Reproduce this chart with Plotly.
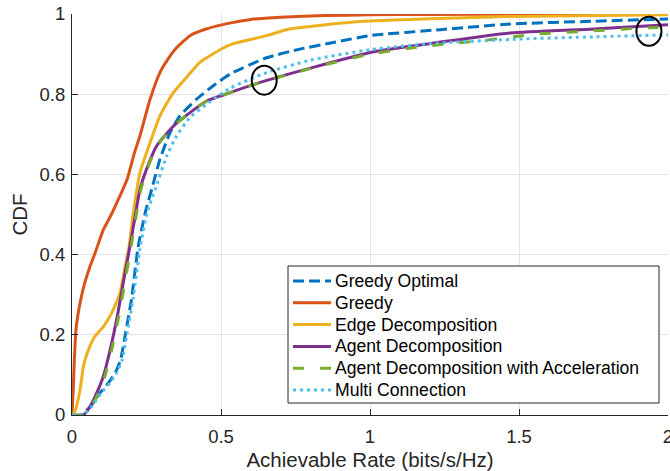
import plotly.graph_objects as go

# ---------------- data ----------------
greedy_opt_x = [0, 0.03, 0.06, 0.094, 0.122, 0.145, 0.163, 0.180, 0.200, 0.221, 0.246, 0.272,
                0.295, 0.329, 0.362, 0.418, 0.474, 0.53, 0.653, 0.765, 0.877, 1.0, 1.235, 1.47, 1.75, 2.0]
greedy_opt_y = [0, 0, 0.02, 0.055, 0.08, 0.105, 0.1375, 0.205, 0.29, 0.415, 0.505, 0.575,
                0.6375, 0.704, 0.746, 0.7875, 0.821, 0.85, 0.891, 0.9125, 0.929, 0.946, 0.961, 0.975, 0.982, 0.9875]

greedy_x = [0, 0.004, 0.008, 0.013, 0.020, 0.030, 0.043, 0.060, 0.078, 0.104, 0.132, 0.160, 0.186,
            0.210, 0.228, 0.262, 0.295, 0.322, 0.350, 0.396, 0.45, 0.52, 0.60, 0.70, 0.85, 1.0, 1.2, 1.5, 2.0]
greedy_y = [0, 0.06, 0.14, 0.21, 0.25, 0.29, 0.33, 0.37, 0.405, 0.46, 0.50, 0.545, 0.59,
            0.655, 0.696, 0.7875, 0.854, 0.8875, 0.915, 0.946, 0.9625, 0.976, 0.9865, 0.992, 0.996, 0.998, 0.999, 0.9995, 1.0]

edge_x = [0, 0.010, 0.027, 0.038, 0.055, 0.077, 0.105, 0.133, 0.161, 0.178, 0.190, 0.205, 0.228,
          0.262, 0.295, 0.340, 0.396, 0.430, 0.50, 0.541, 0.653, 0.73, 0.85, 0.966, 1.2, 1.487, 2.0]
edge_y = [0, 0.01, 0.0625, 0.12, 0.1625, 0.196, 0.22, 0.254, 0.304, 0.37, 0.4125, 0.50, 0.604,
          0.679, 0.746, 0.804, 0.852, 0.880, 0.912, 0.926, 0.946, 0.9625, 0.973, 0.981, 0.988, 0.994, 0.998]

agent_x = [0, 0.038, 0.06, 0.083, 0.105, 0.128, 0.152, 0.172, 0.193, 0.213, 0.228, 0.25, 0.284,
           0.34, 0.396, 0.452, 0.53, 0.645, 0.80, 1.0, 1.2, 1.47, 1.75, 2.0]
agent_y = [0, 0, 0.02, 0.055, 0.096, 0.1625, 0.246, 0.33, 0.415, 0.5, 0.5625, 0.6125, 0.671,
           0.72, 0.754, 0.783, 0.804, 0.8325, 0.865, 0.904, 0.926, 0.9525, 0.9625, 0.9735]

accel_x = [0, 0.04, 0.065, 0.088, 0.11, 0.133, 0.157, 0.177, 0.197, 0.216, 0.231, 0.252, 0.285,
           0.34, 0.396, 0.452, 0.53, 0.645, 0.80, 1.0, 1.2, 1.38, 1.56, 1.75, 1.94, 2.0]
accel_y = [0, 0, 0.02, 0.055, 0.096, 0.1625, 0.246, 0.33, 0.415, 0.5, 0.5625, 0.6125, 0.671,
           0.72, 0.754, 0.783, 0.804, 0.8325, 0.864, 0.9, 0.921, 0.934, 0.95, 0.958, 0.966, 0.967]

multi_x = [0, 0.025, 0.045, 0.065, 0.098, 0.127, 0.150, 0.168, 0.185, 0.205, 0.228, 0.252, 0.279,
           0.318, 0.351, 0.396, 0.452, 0.53, 0.653, 0.80, 1.0, 1.2, 1.5, 1.75, 2.0]
multi_y = [0, 0, 0.005, 0.02, 0.055, 0.08, 0.105, 0.1375, 0.205, 0.29, 0.415, 0.505, 0.5625,
           0.646, 0.696, 0.742, 0.775, 0.815, 0.854, 0.885, 0.911, 0.926, 0.9375, 0.943, 0.948]

series_names = ["Greedy Optimal", "Greedy", "Edge Decomposition", "Agent Decomposition",
                "Agent Decomposition with Acceleration", "Multi Connection"]

# highlighted points (circles) in data coordinates
highlight_x = [0.645, 1.936]
highlight_y = [0.835, 0.957]

x_ticks = [0, 0.5, 1, 1.5, 2]
x_tick_labels = ["0", "0.5", "1", "1.5", "2"]
y_ticks = [0, 0.2, 0.4, 0.6, 0.8, 1]
y_tick_labels = ["0", "0.2", "0.4", "0.6", "0.8", "1"]

# ---------------- styling ----------------
colors = ["#0072BD", "#D95319", "#EDB120", "#7E2F8E", "#77AC30", "#4DBEEE"]
dashes = ["11px,5px", "solid", "solid", "solid", "11px,16px", "3px,4px"]
xs = [greedy_opt_x, greedy_x, edge_x, agent_x, accel_x, multi_x]
ys = [greedy_opt_y, greedy_y, edge_y, agent_y, accel_y, multi_y]

FONT = "Liberation Sans, Arial, Helvetica, sans-serif"
TXT = "#262626"

W, H = 670, 471
ml, mr, mt, mb = 72, 2, 14, 56
pw, ph = W - ml - mr, H - mt - mb


def px_to_paper(px, py):
    return (px - ml) / pw, (H - mb - py) / ph


fig = go.Figure()
for name, x, y, c, d in zip(series_names, xs, ys, colors, dashes):
    fig.add_trace(go.Scatter(x=x, y=y, mode="lines", name=name, showlegend=False,
                             line=dict(color=c, width=3, dash=d, shape="spline", smoothing=0.5)))

# circles (pixel radii converted through the axis scale)
rx = 12.5 * 2.0 / pw
ry = 14.5 * 1.0 / ph
for cx, cy in zip(highlight_x, highlight_y):
    fig.add_shape(type="circle", xref="x", yref="y",
                  x0=cx - rx, x1=cx + rx, y0=cy - ry, y1=cy + ry,
                  line=dict(color="black", width=2))

# legend box (MATLAB-style, tight row spacing)
box_l, box_r, box_t, box_b = 288, 659, 266, 403
row0, row_step = 281, 21.8
x0p, y0p = px_to_paper(box_l, box_b)
x1p, y1p = px_to_paper(box_r, box_t)
fig.add_shape(type="rect", xref="paper", yref="paper", x0=x0p, x1=x1p, y0=y0p, y1=y1p,
              line=dict(color=TXT, width=1), fillcolor="white", layer="above")
for i, (name, c, d) in enumerate(zip(series_names, colors, dashes)):
    ry_px = row0 + i * row_step
    lx0, ly = px_to_paper(293, ry_px)
    lx1, _ = px_to_paper(331, ry_px)
    fig.add_shape(type="line", xref="paper", yref="paper", x0=lx0, x1=lx1, y0=ly, y1=ly,
                  line=dict(color=c, width=3, dash=d), layer="above")
    tx, _ = px_to_paper(334, ry_px)
    fig.add_annotation(xref="paper", yref="paper", x=tx, y=ly, text=name, showarrow=False,
                       xanchor="left", yanchor="middle", xshift=-1,
                       font=dict(family=FONT, size=17.6, color="#000000"))

axis_common = dict(showline=True, linecolor=TXT, linewidth=1, ticks="inside", ticklen=6,
                   tickcolor=TXT, tickwidth=1, showgrid=True, gridcolor="#e3e3e3",
                   gridwidth=1, zeroline=False, mirror=False, ticklabeloverflow="allow",
                   tickfont=dict(family=FONT, size=18.5, color=TXT))

fig.update_xaxes(range=[0, 2], tickvals=x_ticks, ticktext=x_tick_labels, ticklabelstandoff=5,
                 title=dict(text="Achievable Rate (bits/s/Hz)",
                            font=dict(family=FONT, size=20.5, color=TXT), standoff=8),
                 **axis_common)
fig.update_yaxes(range=[0, 1], tickvals=y_ticks, ticktext=y_tick_labels, ticklabelstandoff=2,
                 title=dict(text="CDF", font=dict(family=FONT, size=20.5, color=TXT), standoff=6),
                 **axis_common)

fig.update_layout(
    width=W, height=H,
    margin=dict(l=ml, r=mr, t=mt, b=mb, autoexpand=False),
    paper_bgcolor="white", plot_bgcolor="white",
    font=dict(family=FONT, color=TXT),
    showlegend=False,
)

fig.write_html("out.html")
